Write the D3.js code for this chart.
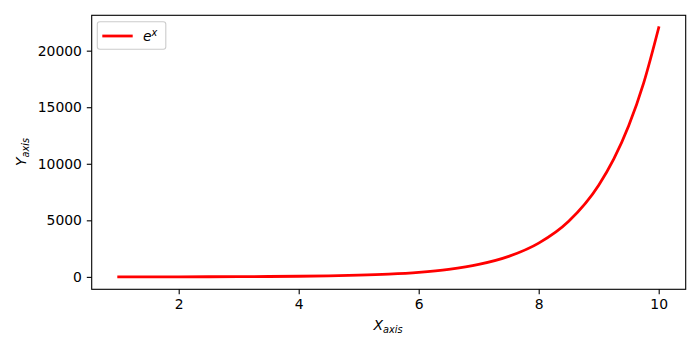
<!DOCTYPE html>
<html>
<head>
<meta charset="utf-8">
<script src="https://cdn.jsdelivr.net/npm/d3@7"></script>
<style>
  html, body { margin: 0; padding: 0; background: #fff; }
  svg { display: block; }
  text { font-family: "DejaVu Sans", sans-serif; }
</style>
</head>
<body>
<svg id="chart" width="700" height="350"></svg>
<script>
// Data (x, y) of the red curve
const xValues = [1, 1.5, 2, 2.5, 3, 3.5, 4, 4.5, 5, 5.5, 6, 6.5, 7, 7.5, 8, 8.5, 9, 9.25, 9.5, 9.75, 10];
const yValues = [3, 4, 7, 12, 20, 33, 55, 90, 148, 245, 403, 665, 1097, 1808, 2981, 4915, 8103, 10405, 13360, 17154, 22026];
const xTicks = [2, 4, 6, 8, 10];
const yTicks = [0, 5000, 10000, 15000, 20000];
const seriesLabel = "e^x";

const svg = d3.select("#chart");
const mLeft = 91.7, mRight = 685.7, mTop = 15.3, mBottom = 289.3;

const x = d3.scaleLinear().domain([0.55, 10.45]).range([mLeft, mRight]);
const y = d3.scaleLinear().domain([-1098, 23127]).range([mBottom, mTop]);

const fs = 13.9;
const tickLen = 4.9;

// Curve
const data = xValues.map((v, i) => [v, yValues[i]]);
const line = d3.line().x(d => x(d[0])).y(d => y(d[1])).curve(d3.curveMonotoneX);
svg.append("path")
  .datum(data)
  .attr("d", line)
  .attr("fill", "none")
  .attr("stroke", "#ff0000")
  .attr("stroke-width", 2.78)
  .attr("stroke-linecap", "square");

// Axes
const xAxis = d3.axisBottom(x).tickValues(xTicks).tickSize(tickLen).tickPadding(4.9).tickFormat(d3.format("d"));
const yAxis = d3.axisLeft(y).tickValues(yTicks).tickSize(tickLen).tickPadding(4.9).tickFormat(d3.format("d"));

const gx = svg.append("g").attr("transform", `translate(0,${mBottom})`).call(xAxis);
const gy = svg.append("g").attr("transform", `translate(${mLeft},0)`).call(yAxis);
[gx, gy].forEach(g => {
  g.select(".domain").remove();
  g.selectAll(".tick line").attr("stroke", "#000").attr("stroke-width", 1.1);
  g.selectAll(".tick text").attr("fill", "#000").style("font-size", fs + "px").style("font-family", "DejaVu Sans");
});

// Frame
svg.append("rect")
  .attr("x", mLeft).attr("y", mTop)
  .attr("width", mRight - mLeft).attr("height", mBottom - mTop)
  .attr("fill", "none").attr("stroke", "#000").attr("stroke-width", 1.1);

// Axis labels
const xl = svg.append("text")
  .attr("x", 388).attr("y", 330)
  .attr("text-anchor", "middle")
  .style("font-size", fs + "px")
  .style("font-style", "italic");
xl.append("tspan").text("X");
xl.append("tspan").attr("dy", 3).style("font-size", (fs * 0.7) + "px").text("axis");

const yl = svg.append("text")
  .attr("transform", "translate(26,152) rotate(-90)")
  .attr("text-anchor", "middle")
  .style("font-size", fs + "px")
  .style("font-style", "italic");
yl.append("tspan").text("Y");
yl.append("tspan").attr("dy", 3).style("font-size", (fs * 0.7) + "px").text("axis");

// Legend
const lg = svg.append("g");
lg.append("rect")
  .attr("x", 97.3).attr("y", 21.7).attr("width", 68.5).attr("height", 27.6)
  .attr("rx", 2.5).attr("ry", 2.5)
  .attr("fill", "#fff").attr("fill-opacity", 0.8)
  .attr("stroke", "#cccccc").attr("stroke-width", 1.1);
lg.append("line")
  .attr("x1", 102.3).attr("x2", 132.7).attr("y1", 36).attr("y2", 36)
  .attr("stroke", "#ff0000").attr("stroke-width", 2.78);
const parts = seriesLabel.split("^");
const lt = lg.append("text")
  .attr("x", 143).attr("y", 41)
  .style("font-size", fs + "px")
  .style("font-style", "italic");
lt.append("tspan").text(parts[0]);
lt.append("tspan").attr("dy", -5).style("font-size", (fs * 0.7) + "px").text(parts[1]);
</script>
</body>
</html>
